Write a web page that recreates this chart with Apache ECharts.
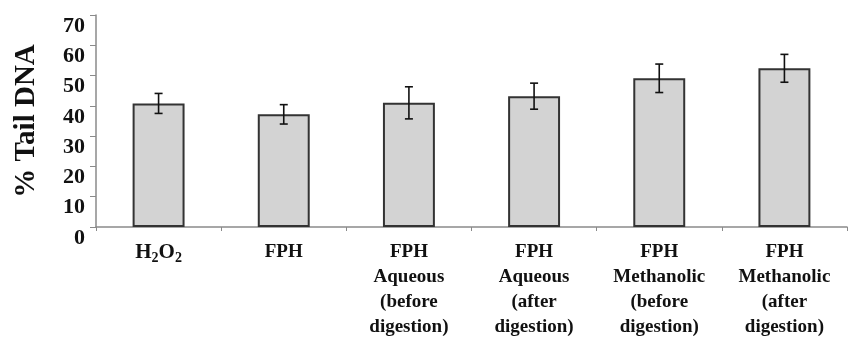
<!DOCTYPE html>
<html lang="en">
<head>
    <meta charset="UTF-8">
    <title>% Tail DNA</title>
    <style>
        html, body { margin: 0; padding: 0; background: #fff; }
        #chart { width: 862px; height: 345px; }
    </style>
    <script src="https://cdn.jsdelivr.net/npm/echarts@6/dist/echarts.min.js"></script>
</head>
<body>
    <div id="chart"></div>
    <script>
        // data
        var categories = [
            '{b|H}{s|2}{b|O}{s|2}',
            'FPH',
            'FPH\nAqueous\n(before\ndigestion)',
            'FPH\nAqueous\n(after\ndigestion)',
            'FPH\nMethanolic\n(before\ndigestion)',
            'FPH\nMethanolic\n(after\ndigestion)'
        ];
        var means = [40.8, 37.2, 41.0, 43.2, 49.1, 52.4];
        var errors = [3.3, 3.2, 5.3, 4.3, 4.7, 4.6];
        var yTicks = [0, 10, 20, 30, 40, 50, 60, 70];

        var serif = '"Liberation Serif", "Times New Roman", serif';

        var chart = echarts.init(document.getElementById('chart'));

        var errData = means.map(function (m, i) {
            return [i, m - errors[i], m + errors[i]];
        });

        var option = {
            animation: false,
            grid: { left: 96, right: 15, top: 15, bottom: 118 },
            xAxis: {
                type: 'category',
                data: categories,
                axisLine: { lineStyle: { color: '#8a8a8a', width: 1.5 } },
                axisTick: { show: true, length: 4, lineStyle: { color: '#8a8a8a' } },
                axisLabel: {
                    interval: 0,
                    margin: 13,
                    color: '#111',
                    fontFamily: serif,
                    fontWeight: 'bold',
                    fontSize: 19,
                    lineHeight: 25,
                    rich: {
                        b: { fontFamily: serif, fontWeight: 'bold', fontSize: 21, color: '#111' },
                        s: { fontFamily: serif, fontWeight: 'bold', fontSize: 14, color: '#111', verticalAlign: 'bottom', padding: [9, 0, 0, 0] }
                    }
                }
            },
            yAxis: {
                type: 'value',
                min: yTicks[0],
                max: yTicks[yTicks.length - 1],
                interval: 10,
                name: '% Tail DNA',
                nameLocation: 'middle',
                nameGap: 55,
                nameTextStyle: {
                    fontFamily: serif,
                    fontWeight: 'bold',
                    fontSize: 29,
                    color: '#111'
                },
                splitLine: { show: false },
                axisLine: { show: true, lineStyle: { color: '#8a8a8a', width: 1.5 } },
                axisTick: { show: true, length: 6, lineStyle: { color: '#8a8a8a' } },
                axisLabel: {
                    margin: 11,
                    color: '#111',
                    fontFamily: serif,
                    fontWeight: 'bold',
                    fontSize: 22,
                    verticalAlign: 'top',
                    padding: [0, 0, 0, 0]
                }
            },
            series: [
                {
                    type: 'bar',
                    data: means,
                    barWidth: '41.5%',
                    itemStyle: {
                        color: '#d3d3d3',
                        borderColor: '#333',
                        borderWidth: 2
                    }
                },
                {
                    type: 'custom',
                    data: errData,
                    z: 10,
                    renderItem: function (params, api) {
                        var x = api.value(0);
                        var lo = api.coord([x, api.value(1)]);
                        var hi = api.coord([x, api.value(2)]);
                        var cap = 4;
                        var style = { stroke: '#111', lineWidth: 1.6 };
                        return {
                            type: 'group',
                            children: [
                                { type: 'line', shape: { x1: hi[0], y1: hi[1], x2: lo[0], y2: lo[1] }, style: style },
                                { type: 'line', shape: { x1: hi[0] - cap, y1: hi[1], x2: hi[0] + cap, y2: hi[1] }, style: style },
                                { type: 'line', shape: { x1: lo[0] - cap, y1: lo[1], x2: lo[0] + cap, y2: lo[1] }, style: style }
                            ]
                        };
                    }
                }
            ]
        };

        chart.setOption(option);
    </script>
</body>
</html>
